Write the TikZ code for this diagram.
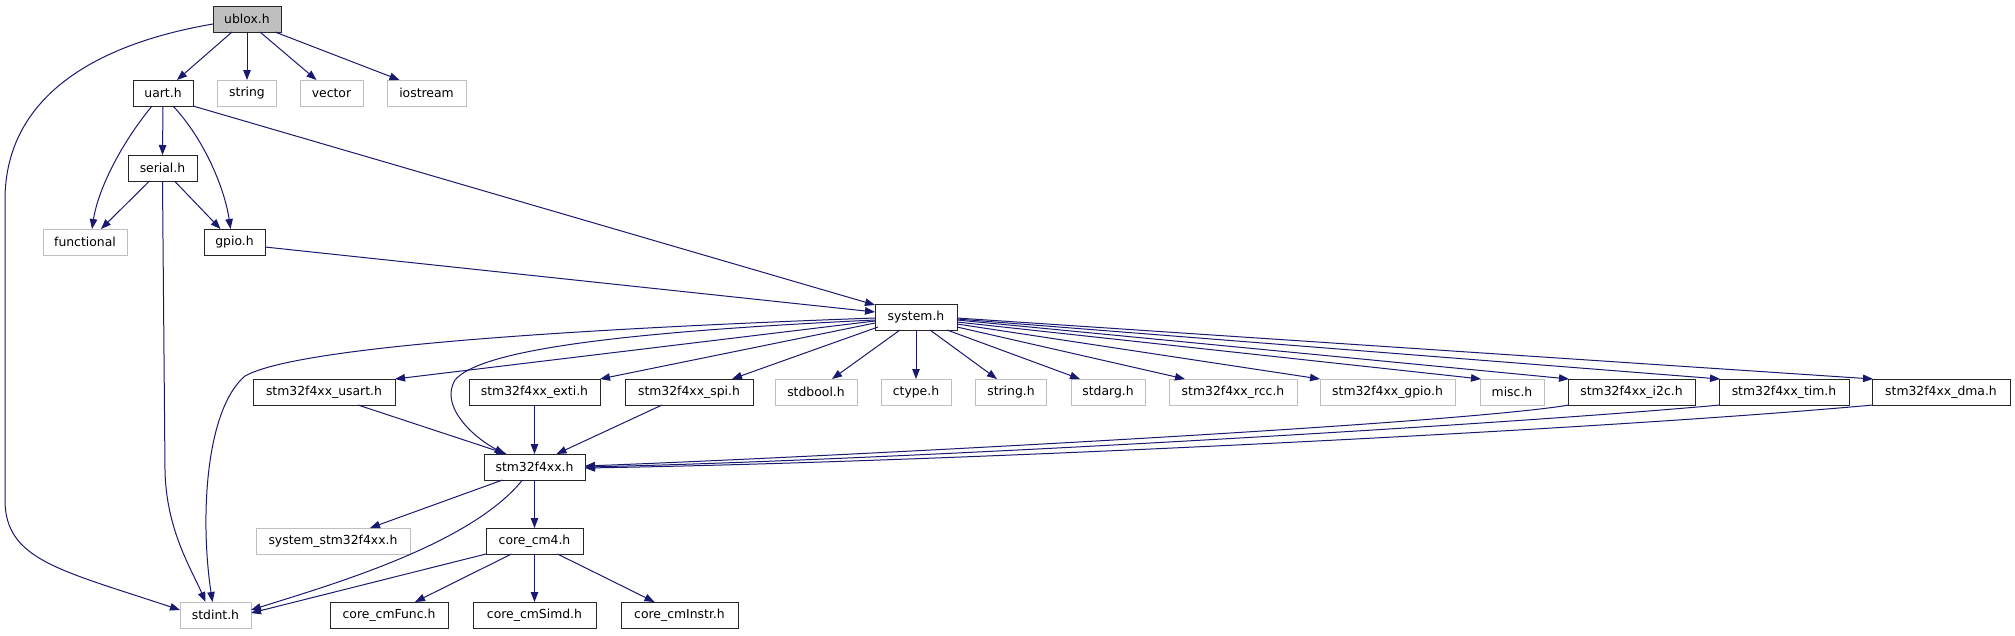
\documentclass[tikz,border=0pt]{standalone}
\usepackage{fontspec}
\setmainfont{DejaVu Sans}
\usetikzlibrary{arrows.meta}
\definecolor{edgecol}{HTML}{191970}
\definecolor{extgray}{HTML}{BFBFBF}
\tikzset{
  filebox/.style={draw=black!85, line width=1pt, minimum height=26pt, inner sep=0pt, outer sep=0pt, font=\fontsize{12.4}{14}\selectfont},
  extbox/.style={draw=extgray, line width=1pt, minimum height=26pt, inner sep=0pt, outer sep=0pt, font=\fontsize{12.4}{14}\selectfont},
  rootbox/.style={filebox, fill=extgray},
  dep/.style={draw=edgecol, line width=1pt, -{Triangle[length=10pt,width=7.5pt,fill=edgecol]}}
}
\begin{document}
\begin{tikzpicture}[x=1pt,y=-1pt]
\useasboundingbox[fill=white] (0,0) rectangle (2015,635);
% row 0
\node[rootbox, minimum width=68pt] (ublox) at (247,19) {ublox.h};
% row 1
\node[filebox, minimum width=60pt] (uart) at (163,93) {uart.h};
\node[extbox, minimum width=59pt] (string) at (247,93) {string};
\node[extbox, minimum width=63pt] (vector) at (331.5,93) {vector};
\node[extbox, minimum width=79pt] (iostream) at (426.5,93) {iostream};
% row 2
\node[filebox, minimum width=69pt] (serial) at (162.5,168) {serial.h};
% row 3
\node[extbox, minimum width=84pt] (functional) at (85,242) {functional};
\node[filebox, minimum width=61pt] (gpio) at (234.5,242) {gpio.h};
% row 4
\node[filebox, minimum width=82pt] (system) at (916,317) {system.h};
% row 5
\node[filebox, minimum width=142pt] (usart) at (324,392) {stm32f4xx\_usart.h};
\node[filebox, minimum width=131pt] (exti) at (534.5,392) {stm32f4xx\_exti.h};
\node[filebox, minimum width=128pt] (spi) at (689,392) {stm32f4xx\_spi.h};
\node[extbox, minimum width=82pt] (stdbool) at (816,392) {stdbool.h};
\node[extbox, minimum width=70pt] (ctype) at (916,392) {ctype.h};
\node[extbox, minimum width=71pt] (stringh) at (1011,392) {string.h};
\node[extbox, minimum width=74pt] (stdarg) at (1108,392) {stdarg.h};
\node[extbox, minimum width=128pt] (rcc) at (1233,392) {stm32f4xx\_rcc.h};
\node[extbox, minimum width=135pt] (stmgpio) at (1387.5,392) {stm32f4xx\_gpio.h};
\node[extbox, minimum width=64pt] (misc) at (1512,392) {misc.h};
\node[filebox, minimum width=127pt] (i2c) at (1631.5,392) {stm32f4xx\_i2c.h};
\node[filebox, minimum width=130pt] (tim) at (1784,392) {stm32f4xx\_tim.h};
\node[filebox, minimum width=138pt] (dma) at (1941,392) {stm32f4xx\_dma.h};
% row 6
\node[filebox, minimum width=101pt] (stm32) at (534.5,467) {stm32f4xx.h};
% row 7
\node[extbox, minimum width=154pt] (sysstm) at (333,541) {system\_stm32f4xx.h};
\node[filebox, minimum width=97pt] (cm4) at (534.5,541) {core\_cm4.h};
% row 8
\node[extbox, minimum width=71pt] (stdint) at (215.5,615) {stdint.h};
\node[filebox, minimum width=118pt] (cmFunc) at (389,615) {core\_cmFunc.h};
\node[filebox, minimum width=123pt] (cmSimd) at (534.5,615) {core\_cmSimd.h};
\node[filebox, minimum width=117pt] (cmInstr) at (679.5,615) {core\_cmInstr.h};

% edges from ublox.h
\draw[dep] ([xshift=-15pt]ublox.south) -- ([xshift=14pt]uart.north);
\draw[dep] (ublox.south) -- (string.north);
\draw[dep] ([xshift=13pt]ublox.south) -- ([xshift=-15pt]vector.north);
\draw[dep] ([xshift=28pt]ublox.south) -- ([xshift=-27pt]iostream.north);
\draw[dep] ([yshift=-5pt]ublox.west) .. controls (90,45) and (5,100) .. (5,200) -- (5,500) .. controls (5,560) and (60,570) .. ([yshift=5pt]stdint.west);
% uart.h
\draw[dep] (uart.south) -- (serial.north);
\draw[dep] ([xshift=-11pt]uart.south) .. controls (120,145) and (98,190) .. ([xshift=7pt]functional.north);
\draw[dep] ([xshift=10pt]uart.south) .. controls (205,140) and (225,190) .. ([xshift=-4pt]gpio.north);
\draw[dep] (uart.south east) -- ([yshift=-1pt]system.north west);
% serial.h
\draw[dep] ([xshift=-13pt]serial.south) -- ([xshift=16pt]functional.north);
\draw[dep] ([xshift=12pt]serial.south) -- ([xshift=-14pt]gpio.north);
\draw[dep] (serial.south) -- (165,470) .. controls (166,530) and (192,570) .. ([xshift=-10pt]stdint.north);
% gpio.h
\draw[dep] ([yshift=-5pt]gpio.east) -- ([yshift=5pt]system.west);
% system.h
\draw[dep] ([yshift=-1pt]system.west) .. controls (600,328) and (300,345) .. (245,376) .. controls (205,410) and (200,520) .. ([xshift=-3pt]stdint.north);
\draw[dep] ([yshift=-4pt]system.west) -- (usart.north east);
\draw[dep] ([yshift=-3pt]system.west) .. controls (620,332) and (480,350) .. (455,380) .. controls (440,405) and (470,435) .. ([xshift=-30pt]stm32.north);
\draw[dep] ([yshift=-6pt]system.west) -- (exti.north east);
\draw[dep] ([xshift=3pt,yshift=3pt]system.south west) -- ([xshift=43pt]spi.north);
\draw[dep] ([xshift=-16pt]system.south) -- ([xshift=16pt]stdbool.north);
\draw[dep] (system.south) -- (ctype.north);
\draw[dep] ([xshift=14pt]system.south) -- ([xshift=-14pt]stringh.north);
\draw[dep] ([xshift=31pt]system.south) -- ([xshift=-28pt]stdarg.north);
\draw[dep] ([yshift=-10pt]system.east) -- ([xshift=-48pt]rcc.north);
\draw[dep] ([yshift=-7pt]system.east) -- (stmgpio.north west);
\draw[dep] ([yshift=-5pt]system.east) -- ([xshift=1pt]misc.north west);
\draw[dep] ([yshift=-3pt]system.east) -- ([xshift=1pt]i2c.north west);
\draw[dep] ([yshift=-2pt]system.east) -- ([xshift=1pt]tim.north west);
\draw[dep] ([yshift=-1pt]system.east) -- ([xshift=1pt]dma.north west);
% row 5 -> stm32f4xx.h
\draw[dep] ([xshift=34pt]usart.south) -- ([xshift=-28pt]stm32.north);
\draw[dep] (exti.south) -- (stm32.north);
\draw[dep] ([xshift=-27pt]spi.south) -- ([xshift=22pt]stm32.north);
\draw[dep] ([xshift=1pt]i2c.south west) .. controls (1450,425) and (800,458) .. ([yshift=1pt]stm32.east);
\draw[dep] ([xshift=1pt]tim.south west) .. controls (1500,425) and (900,460) .. (stm32.east);
\draw[dep] ([xshift=1pt]dma.south west) .. controls (1600,430) and (950,462) .. ([yshift=-1pt]stm32.east);
% stm32f4xx.h
\draw[dep] ([xshift=-32pt]stm32.south) -- ([xshift=37pt]sysstm.north);
\draw[dep] ([xshift=-12pt]stm32.south) .. controls (470,545) and (330,585) .. ([yshift=5pt]stdint.east);
\draw[dep] (stm32.south) -- (cm4.north);
% core_cm4.h
\draw[dep] (cm4.south west) -- ([yshift=2pt]stdint.east);
\draw[dep] ([xshift=-23pt]cm4.south) -- ([xshift=26pt]cmFunc.north);
\draw[dep] (cm4.south) -- (cmSimd.north);
\draw[dep] ([xshift=23pt]cm4.south) -- ([xshift=-25pt]cmInstr.north);
\end{tikzpicture}
\end{document}
